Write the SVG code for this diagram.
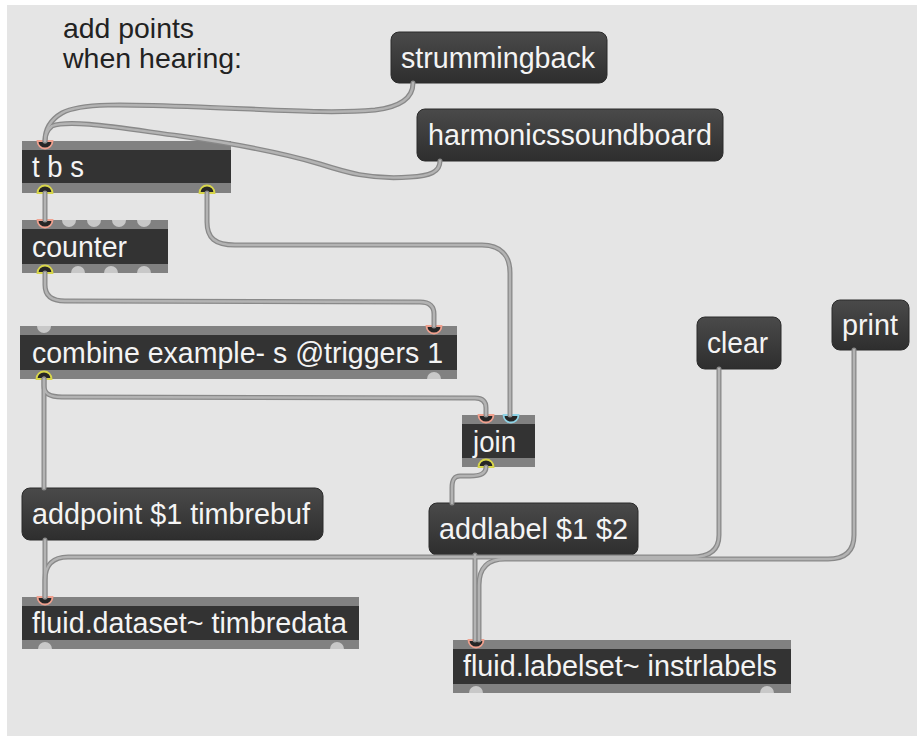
<svg xmlns="http://www.w3.org/2000/svg" xmlns:xlink="http://www.w3.org/1999/xlink" width="917" height="736" viewBox="0 0 917 736">
<style>
.bar{fill:#818181}
.body{fill:#333333}
.msg{fill:url(#mg);stroke:#2b2b2b;stroke-width:1}
.t{font-family:"Liberation Sans",Arial,sans-serif;font-size:29px;fill:#f4f4f4}
.cmt{font-family:"Liberation Sans",Arial,sans-serif;font-size:28px;fill:#222222}
.co{fill:none;stroke:#898989;stroke-width:5;stroke-linecap:round;stroke-linejoin:round}
.ci{fill:none;stroke:#b3b3b3;stroke-width:2.4;stroke-linecap:round;stroke-linejoin:round}
.pu{fill:#c8c8c8}
.ps{fill:#262626;stroke:#f0a08e;stroke-width:1.8}
.py{fill:#262626;stroke:#d8d64a;stroke-width:1.8}
.pc{fill:#262626;stroke:#8fd3e6;stroke-width:1.8}
</style>
<defs>
<linearGradient id="mg" x1="0" y1="0" x2="0" y2="1">
<stop offset="0" stop-color="#4a4a4a"/>
<stop offset="1" stop-color="#2e2e2e"/>
</linearGradient>
<path id="c1" d="M413,83 C413,98 400,107 375,110 C330,114 280,110 200,107 C120,104 80,103 62,113 C50,120 45,130 45,141"/>
<path id="c2" d="M440,161 C440,172 430,176 410,177 C370,180 345,172 320,164 C280,152 230,143 180,136 C120,128 70,119 52,126 C47,130 45,135 45,141"/>
<path id="c3" d="M45,193 L45,220"/>
<path id="c4" d="M207,193 L207,222 C207,238 215,245 235,245 L482,245 C500,245 510,255 510,273 L510,415"/>
<path id="c5" d="M45,273 L45,285 C45,296 52,301 65,301 L420,302 C430,302 434,307 434,314 L434,326"/>
<path id="c6" d="M44,379 L44,386 C44,394 50,397 62,397 L475,398 C483,398 486,402 486,408 L486,415"/>
<path id="c7" d="M44,379 L44,488"/>
<path id="c8" d="M486,467 C486,474 480,476 470,476 L460,476 C454,476 452,480 452,488 L452,503"/>
<path id="c9" d="M45,540 L45,597"/>
<path id="c10" d="M475,555 L475,640"/>
<path id="c11" d="M719,369 L719,535 C719,550 710,557 692,557 L68,557 C53,557 45,565 45,580 L45,597"/>
<path id="c12" d="M854,350 L854,535 C854,551 845,559 828,559 L505,559 C488,559 479,568 479,585 L479,640"/>
</defs>

<rect x="0" y="0" width="917" height="736" fill="#ffffff"/>
<rect x="7" y="5" width="910" height="731" fill="#e5e5e5"/>

<g id="comment">
<text class="cmt" x="63" y="38" textLength="131" lengthAdjust="spacingAndGlyphs">add points</text>
<text class="cmt" x="63" y="68" textLength="179" lengthAdjust="spacingAndGlyphs">when hearing:</text>
</g>

<g id="strummingback">
<rect class="msg" x="391" y="32" width="216" height="51" rx="8"/>
<text class="t" x="401" y="68" textLength="194" lengthAdjust="spacingAndGlyphs">strummingback</text>
</g>

<g id="harmonicssoundboard">
<rect class="msg" x="417" y="109" width="306" height="52" rx="8"/>
<text class="t" x="428" y="145" textLength="284" lengthAdjust="spacingAndGlyphs">harmonicssoundboard</text>
</g>

<g id="tbs">
<rect class="bar" x="22" y="141" width="209" height="52"/>
<rect class="body" x="22" y="150" width="209" height="33"/>
<text class="t" x="32" y="177" textLength="52" lengthAdjust="spacingAndGlyphs">t b s</text>
<path class="ps" d="M37.5,141 A7.5,7.5 0 0 0 52.5,141 Z"/>
<path class="py" d="M37.5,193 A7.5,7.5 0 0 1 52.5,193 Z"/>
<path class="py" d="M199.5,193 A7.5,7.5 0 0 1 214.5,193 Z"/>
</g>

<g id="counter">
<rect class="bar" x="22" y="220" width="146" height="53"/>
<rect class="body" x="22" y="229" width="146" height="35"/>
<text class="t" x="32" y="257" textLength="95" lengthAdjust="spacingAndGlyphs">counter</text>
<path class="ps" d="M37.5,220 A7.5,7.5 0 0 0 52.5,220 Z"/>
<path class="pu" d="M62,220 A7,7 0 0 0 76,220 Z"/>
<path class="pu" d="M87,220 A7,7 0 0 0 101,220 Z"/>
<path class="pu" d="M112,220 A7,7 0 0 0 126,220 Z"/>
<path class="pu" d="M137,220 A7,7 0 0 0 151,220 Z"/>
<path class="py" d="M37.5,273 A7.5,7.5 0 0 1 52.5,273 Z"/>
<path class="pu" d="M71,273 A7,7 0 0 1 85,273 Z"/>
<path class="pu" d="M104,273 A7,7 0 0 1 118,273 Z"/>
<path class="pu" d="M137,273 A7,7 0 0 1 151,273 Z"/>
</g>

<g id="combine">
<rect class="bar" x="20" y="326" width="437" height="53"/>
<rect class="body" x="20" y="335" width="437" height="35"/>
<text class="t" x="32" y="363" textLength="411" lengthAdjust="spacingAndGlyphs">combine example- s @triggers 1</text>
<path class="pu" d="M37,326 A7,7 0 0 0 51,326 Z"/>
<path class="ps" d="M426.5,326 A7.5,7.5 0 0 0 441.5,326 Z"/>
<path class="py" d="M36.5,379 A7.5,7.5 0 0 1 51.5,379 Z"/>
<path class="pu" d="M427,379 A7,7 0 0 1 441,379 Z"/>
</g>

<g id="join">
<rect class="bar" x="462" y="415" width="73" height="52"/>
<rect class="body" x="462" y="424" width="73" height="34"/>
<text class="t" x="473" y="452" textLength="43" lengthAdjust="spacingAndGlyphs">join</text>
<path class="ps" d="M478.5,415 A7.5,7.5 0 0 0 493.5,415 Z"/>
<path class="pc" d="M503.5,415 A7.5,7.5 0 0 0 518.5,415 Z"/>
<path class="py" d="M478.5,467 A7.5,7.5 0 0 1 493.5,467 Z"/>
</g>

<g id="addpoint">
<rect class="msg" x="22" y="488" width="301" height="52" rx="8"/>
<text class="t" x="32" y="524" textLength="278" lengthAdjust="spacingAndGlyphs">addpoint $1 timbrebuf</text>
</g>

<g id="addlabel">
<rect class="msg" x="429" y="503" width="209" height="52" rx="8"/>
<text class="t" x="439" y="539" textLength="189" lengthAdjust="spacingAndGlyphs">addlabel $1 $2</text>
</g>

<g id="clear">
<rect class="msg" x="697" y="317" width="84" height="52" rx="8"/>
<text class="t" x="707" y="353" textLength="61" lengthAdjust="spacingAndGlyphs">clear</text>
</g>

<g id="print">
<rect class="msg" x="832" y="300" width="77" height="50" rx="8"/>
<text class="t" x="842" y="335" textLength="56" lengthAdjust="spacingAndGlyphs">print</text>
</g>

<g id="dataset">
<rect class="bar" x="22" y="597" width="337" height="52"/>
<rect class="body" x="22" y="606" width="337" height="34"/>
<text class="t" x="32" y="633" textLength="315" lengthAdjust="spacingAndGlyphs">fluid.dataset~ timbredata</text>
<path class="ps" d="M37.5,597 A7.5,7.5 0 0 0 52.5,597 Z"/>
<path class="pu" d="M38,649 A7,7 0 0 1 52,649 Z"/>
<path class="pu" d="M330,649 A7,7 0 0 1 344,649 Z"/>
</g>

<g id="labelset">
<rect class="bar" x="453" y="640" width="338" height="53"/>
<rect class="body" x="453" y="649" width="338" height="35"/>
<text class="t" x="463" y="676" textLength="314" lengthAdjust="spacingAndGlyphs">fluid.labelset~ instrlabels</text>
<path class="ps" d="M468.5,640 A7.5,7.5 0 0 0 483.5,640 Z"/>
<path class="pu" d="M469,693 A7,7 0 0 1 483,693 Z"/>
<path class="pu" d="M760,693 A7,7 0 0 1 774,693 Z"/>
</g>

<g id="connectors">
<g class="co">
<use xlink:href="#c1"/><use xlink:href="#c2"/><use xlink:href="#c3"/><use xlink:href="#c4"/>
<use xlink:href="#c5"/><use xlink:href="#c6"/><use xlink:href="#c7"/><use xlink:href="#c8"/>
<use xlink:href="#c9"/><use xlink:href="#c10"/><use xlink:href="#c11"/><use xlink:href="#c12"/>
</g>
<g class="ci">
<use xlink:href="#c1"/><use xlink:href="#c2"/><use xlink:href="#c3"/><use xlink:href="#c4"/>
<use xlink:href="#c5"/><use xlink:href="#c6"/><use xlink:href="#c7"/><use xlink:href="#c8"/>
<use xlink:href="#c9"/><use xlink:href="#c10"/><use xlink:href="#c11"/><use xlink:href="#c12"/>
</g>
</g>
</svg>
